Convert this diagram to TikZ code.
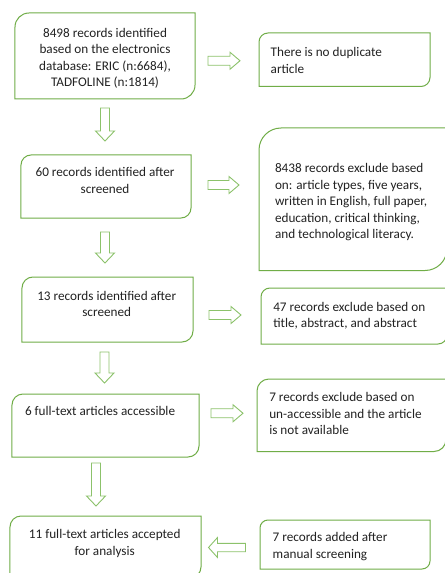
\documentclass[tikz,border=0pt]{standalone}
\usepackage{fontspec}
\setmainfont{Carlito}
\usetikzlibrary{calc}
\definecolor{boxgreen}{HTML}{70AD47}
\definecolor{arrgreen}{HTML}{8CC26B}
\definecolor{txtgray}{HTML}{222222}
\tikzset{
  boxn/.style={draw=none, inner sep=0pt, outer sep=0pt},
  boxline/.style={draw=boxgreen, line width=1bp},
  arrowline/.style={draw=arrgreen, line width=0.9bp, line join=miter},
  txtc/.style={inner sep=0pt, outer sep=0pt, anchor=north, align=center, text=txtgray,
    font=\fontsize{13.2bp}{16.5bp}\selectfont},
  txtl/.style={inner sep=0pt, outer sep=0pt, anchor=north west, align=left, text=txtgray,
    font=\fontsize{13.2bp}{16.5bp}\selectfont},
  pics/barrow/.style n args={4}{code={%
    \draw[arrowline] (0,-#2) -- ({#1-#4},-#2) -- ({#1-#4},-#3) -- (#1,0)
      -- ({#1-#4},#3) -- ({#1-#4},#2) -- (0,#2) -- cycle;}}
}
\newcommand\rbox[2]{%
  \draw[boxline] (#1.south west) -- ([yshift=-#2]#1.north west)
    arc[start angle=180,end angle=90,radius=#2] -- (#1.north east)
    -- ([yshift=#2]#1.south east)
    arc[start angle=0,end angle=-90,radius=#2] -- cycle;}
\begin{document}
\begin{tikzpicture}[x=1bp,y=-1bp]
\useasboundingbox (0,0) rectangle (445,573);
\fill[white] (0,0) rectangle (445,573);
\clip (0,0) rectangle (445,573);
% boxes
\node[boxn, minimum width=180bp, minimum height=86bp] (b1) at (105,56) {};
\node[boxn, minimum width=171bp, minimum height=53.5bp] (b2) at (344.5,59.75) {};
\node[boxn, minimum width=170bp, minimum height=63bp] (b3) at (106,186.5) {};
\node[boxn, minimum width=188bp, minimum height=142.5bp] (b4) at (353,199.25) {};
\node[boxn, minimum width=171bp, minimum height=65bp] (b5) at (107.5,309.5) {};
\node[boxn, minimum width=186bp, minimum height=56bp] (b6) at (354,316) {};
\node[boxn, minimum width=187bp, minimum height=63bp] (b7) at (105.5,425.5) {};
\node[boxn, minimum width=189bp, minimum height=72.5bp] (b8) at (351.5,415.25) {};
\node[boxn, minimum width=191bp, minimum height=62bp] (b9) at (105.5,547) {};
\node[boxn, minimum width=170bp, minimum height=49bp] (b10) at (345,544.5) {};
\rbox{b1}{14bp}
\rbox{b2}{9bp}
\rbox{b3}{10bp}
\rbox{b4}{22bp}
\rbox{b5}{11bp}
\rbox{b6}{9bp}
\rbox{b7}{11bp}
\rbox{b8}{12bp}
\rbox{b9}{11bp}
\rbox{b10}{8bp}
% texts
\node[txtc] (t1) at (105,28) {8498 records identified\\based on the electronics\\database: ERIC (n:6684),\\TADFOLINE (n:1814)};
\node[txtl] (t2) at (270.7,47.5) {There is no duplicate\\article};
\node[txtc] (t3) at (105,167.7) {60 records identified after\\screened};
\node[txtl] (t4) at (275,163.7) {8438 records exclude based\\on: article types, five years,\\written in English, full paper,\\education, critical thinking,\\and technological literacy.};
\node[txtc] (t5) at (106.7,291) {13 records identified after\\screened};
\node[txtl] (t6) at (273.3,302) {47 records exclude based on\\title, abstract, and abstract};
\node[txtl] (t7) at (25,406.7) {6 full-text articles accessible};
\node[txtl] (t8) at (269.3,392.7) {7 records exclude based on\\un-accessible and the article\\is not available};
\node[txtc] (t9) at (104.7,529.4) {11 full-text articles accepted\\for analysis};
\node[txtl] (t10) at (272.7,532.4) {7 records added after\\manual screening};
% block arrows
\pic (ar1) at ($(b1.east |- b2.west)+(13,1)$) {barrow={32}{4.5}{8.5}{10}};
\pic (ar2) at ($(b3.east)+(17,-1.5)$) {barrow={31}{4.5}{8.5}{10}};
\pic (ar3) at ($(b5.east |- b6.west)+(16,-1)$) {barrow={32}{4.5}{8.5}{10}};
\pic (ar4) at ($(b7.east |- b8.west)+(12,-2)$) {barrow={32}{4.5}{8.5}{10}};
\pic[rotate=180] (al1) at ($(b10.west)+(-14.5,3)$) {barrow={37}{4.2}{10}{9}};
\pic[rotate=-90] (ad1) at ($(b1.south)+(0,9)$) {barrow={33}{4.5}{9.5}{10}};
\pic[rotate=-90] (ad2) at ($(b3.south)+(-1,14)$) {barrow={31}{4.5}{9.5}{10}};
\pic[rotate=-90] (ad3) at ($(b5.south)+(-3,10)$) {barrow={31}{4.5}{9.5}{10}};
\pic[rotate=-90] (ad4) at ($(b7.south)+(-9.5,6)$) {barrow={43}{4.5}{9.5}{10}};
\end{tikzpicture}
\end{document}
